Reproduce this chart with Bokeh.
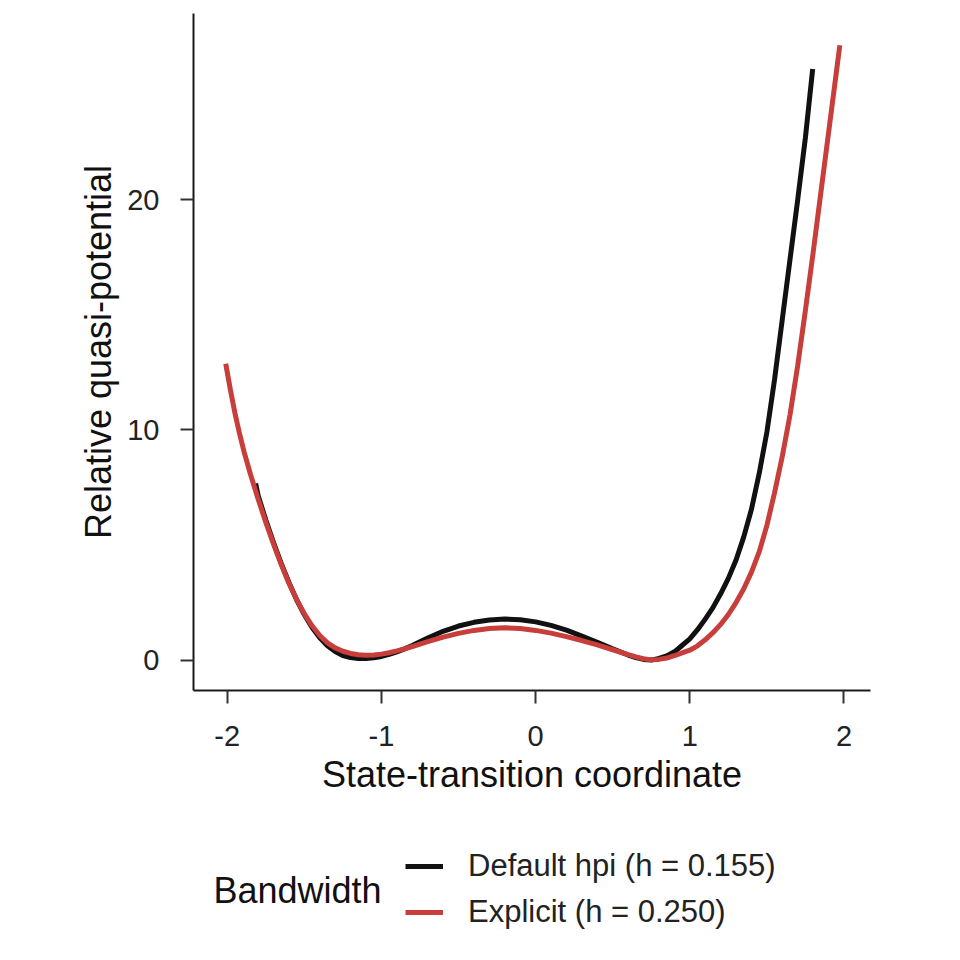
from bokeh.layouts import column
from bokeh.models import Range1d, FixedTicker, Legend, LegendItem, Label
from bokeh.plotting import figure
from bokeh.embed import file_html
from bokeh.resources import INLINE

# curves
hpi_x = [-1.816, -1.80, -1.75, -1.70, -1.65, -1.60, -1.55, -1.50, -1.45, -1.40, -1.35, -1.30,
         -1.25, -1.20, -1.15, -1.10, -1.05, -1.00, -0.95, -0.90, -0.85, -0.80, -0.70, -0.60,
         -0.50, -0.40, -0.30, -0.20, -0.10, 0.00, 0.10, 0.20, 0.30, 0.40, 0.50, 0.60, 0.65,
         0.70, 0.75, 0.80, 0.85, 0.90, 0.94, 1.00, 1.05, 1.10, 1.15, 1.20, 1.25, 1.30, 1.35,
         1.40, 1.45, 1.50, 1.55, 1.60, 1.65, 1.70, 1.75, 1.797]
hpi_y = [7.67, 7.15, 6.08, 5.10, 4.20, 3.37, 2.62, 1.97, 1.42, 0.97, 0.62, 0.37,
         0.20, 0.11, 0.07, 0.07, 0.10, 0.16, 0.25, 0.36, 0.49, 0.63, 0.96, 1.25,
         1.48, 1.64, 1.74, 1.78, 1.75, 1.66, 1.51, 1.30, 1.04, 0.77, 0.49, 0.22, 0.11,
         0.03, 0.00, 0.07, 0.18, 0.36, 0.58, 0.92, 1.32, 1.78, 2.28, 2.88, 3.55, 4.35, 5.35,
         6.55, 8.10, 9.90, 12.20, 14.80, 17.40, 20.00, 22.70, 25.67]

exp_x = [-2.01, -1.98, -1.95, -1.92, -1.89, -1.85, -1.80, -1.75, -1.70, -1.65, -1.60, -1.55,
         -1.50, -1.45, -1.40, -1.35, -1.30, -1.25, -1.20, -1.15, -1.10, -1.05, -1.00, -0.95,
         -0.90, -0.85, -0.80, -0.70, -0.60, -0.50, -0.40, -0.30, -0.20, -0.10, 0.00, 0.10,
         0.20, 0.30, 0.40, 0.50, 0.60, 0.65, 0.70, 0.75, 0.80, 0.85, 0.90, 0.95, 1.00, 1.05,
         1.10, 1.15, 1.20, 1.25, 1.30, 1.35, 1.40, 1.45, 1.50, 1.55, 1.60, 1.65, 1.70, 1.75,
         1.80, 1.85, 1.90, 1.95, 1.973]
exp_y = [12.87, 11.75, 10.72, 9.82, 9.02, 8.08, 7.00, 5.98, 5.04, 4.15, 3.34, 2.63,
         2.01, 1.49, 1.07, 0.75, 0.53, 0.385, 0.29, 0.235, 0.215, 0.22, 0.26, 0.32,
         0.40, 0.49, 0.59, 0.80, 1.00, 1.16, 1.29, 1.37, 1.40, 1.37, 1.29, 1.17,
         1.02, 0.85, 0.66, 0.45, 0.24, 0.14, 0.06, 0.01, 0.03, 0.09, 0.19, 0.31, 0.43, 0.62,
         0.88, 1.19, 1.55, 1.98, 2.50, 3.10, 3.82, 4.70, 5.85, 7.28, 8.85, 10.65, 12.80, 15.20,
         17.70, 20.30, 22.90, 25.50, 26.70]

x_ticks = [-2, -1, 0, 1, 2]
y_ticks = [0, 10, 20]
labels = ["Default hpi (h = 0.155)", "Explicit (h = 0.250)"]
legend_title = "Bandwidth"
colors = ["#111111", "#C73E3A"]

FONT = "Liberation Sans"

p = figure(width=944, height=810, frame_width=677, frame_height=677,
           x_range=Range1d(-2.219, 2.172), y_range=Range1d(-1.32, 28.08),
           toolbar_location=None, output_backend="svg",
           min_border_left=193, min_border_top=13, min_border_right=74, min_border_bottom=120)
p.grid.visible = False
p.outline_line_color = None
p.background_fill_color = "white"
p.border_fill_color = "white"

p.line(hpi_x, hpi_y, line_color=colors[0], line_width=5)
p.line(exp_x, exp_y, line_color=colors[1], line_width=5)

for ax in (p.xaxis[0], p.yaxis[0]):
    ax.axis_line_color = "#1a1a1a"
    ax.axis_line_width = 2
    ax.major_tick_line_color = "#333333"
    ax.major_tick_line_width = 2
    ax.major_tick_out = 13
    ax.major_tick_in = 0
    ax.minor_tick_out = 0
    ax.minor_tick_in = 0
    ax.major_label_text_font = FONT
    ax.major_label_text_font_size = "29px"
    ax.major_label_text_color = "#222222"
    ax.axis_label_text_font = FONT
    ax.axis_label_text_font_size = "36px"
    ax.axis_label_text_font_style = "normal"
    ax.axis_label_text_color = "#111111"

p.xaxis.ticker = FixedTicker(ticks=x_ticks)
p.yaxis.ticker = FixedTicker(ticks=y_ticks)
p.xaxis.major_label_overrides = {t: str(t) for t in x_ticks}
p.xaxis.axis_label = "State-transition coordinate"
p.yaxis.axis_label = "Relative quasi-potential"
p.xaxis.major_label_standoff = 22
p.xaxis.axis_label_standoff = 5
p.yaxis.major_label_standoff = 21
p.yaxis.axis_label_standoff = 5

# legend strip under the chart (its frame lines up with the chart frame)
leg = figure(width=944, height=134, toolbar_location=None, output_backend="svg",
             x_range=Range1d(0, 1), y_range=Range1d(0, 1),
             min_border=0, x_axis_type=None, y_axis_type=None)
leg.grid.visible = False
leg.outline_line_color = None
nan = float("nan")
k1 = leg.line([nan], [nan], line_color=colors[0], line_width=5)
k2 = leg.line([nan], [nan], line_color=colors[1], line_width=5)

legend = Legend(items=[LegendItem(label=labels[0], renderers=[k1]),
                       LegendItem(label=labels[1], renderers=[k2])],
                location=(212, 12), orientation="vertical",
                label_text_font=FONT, label_text_font_size="31px", label_text_color="#222222",
                glyph_width=38, glyph_height=40, label_height=40, label_standoff=25,
                spacing=6, padding=0, margin=0,
                border_line_color=None, background_fill_alpha=0)
leg.add_layout(legend, "center")
leg.add_layout(Label(x=20, y=54, x_units="screen", y_units="screen", text=legend_title,
                     text_font=FONT, text_font_size="36px", text_color="#111111",
                     text_baseline="middle", text_align="left"))

out = column(p, leg, spacing=0)
open("out.html", "w").write(file_html(out, INLINE))
